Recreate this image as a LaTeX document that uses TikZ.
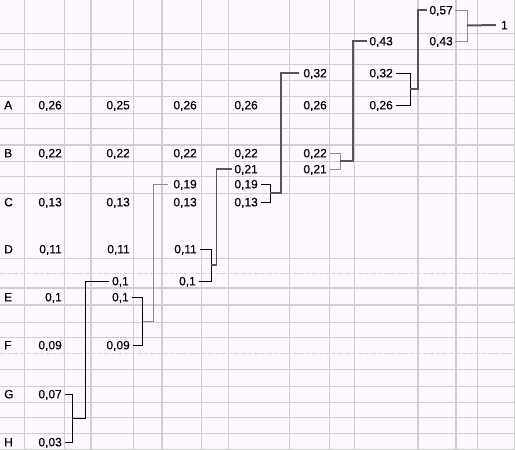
\documentclass[tikz,border=0pt]{standalone}
\usepackage{fontspec}
\setmainfont{Liberation Sans}
\newfontfamily\cellfont{Liberation Sans}[FakeBold=0.45]
\usetikzlibrary{calc}

\definecolor{sheet}{RGB}{254,248,254}
\definecolor{gridgray}{RGB}{206,206,206}
\definecolor{linkgray}{RGB}{85,85,85}

\begin{document}
\begin{tikzpicture}[x=1pt,y=-1pt]
    \tikzstyle{every node}=[font=\cellfont\fontsize{12}{14}\selectfont, inner sep=0pt,
    text height=8.6pt, text depth=0pt]
    \tikzstyle{prob}=[anchor=east]
    \tikzstyle{letter}=[anchor=west]
    \tikzstyle{cell}=[gridgray, line width=1pt]
    \tikzstyle{thickcell}=[gridgray, line width=2pt]
    \tikzstyle{dotcell}=[gridgray!80, line width=1pt, dash pattern=on 5pt off 1.5pt]
    \tikzstyle{pairline}=[black, line width=0.8pt]
    \tikzstyle{faintline}=[black!45, line width=0.8pt]
    \tikzstyle{sumline}=[linkgray, line width=1.4pt]

    \useasboundingbox (0,0) rectangle (515,450);
    \fill[sheet] (0,0) rectangle (515,450);

    % sheet grid
    \draw[cell] (24,0) -- (24,450) (64,0) -- (64,450) (133,0) -- (133,450)
    (201,0) -- (201,450) (228,0) -- (228,450) (289,0) -- (289,450)
    (329,0) -- (329,450) (354,0) -- (354,450) (477,0) -- (477,450)
    (514,0) -- (514,450);
    \draw[thickcell] (91,0) -- (91,450) (162,0) -- (162,450)
    (418,0) -- (418,450) (456,0) -- (456,450);
    \draw[cell] (0,33) -- (515,33) (0,49) -- (515,49) (0,64) -- (515,64)
    (0,80) -- (515,80) (0,96) -- (515,96) (0,113) -- (515,113)
    (0,128) -- (515,128) (0,161) -- (515,161) (0,176) -- (515,176)
    (0,193) -- (515,193) (0,258) -- (515,258) (0,322) -- (515,322)
    (0,337) -- (515,337) (0,369) -- (515,369) (0,386) -- (515,386)
    (0,402) -- (515,402) (0,417) -- (515,417) (0,433) -- (515,433)
    (0,449) -- (515,449);
    \draw[thickcell] (0,145) -- (515,145) (0,288) -- (515,288) (0,305) -- (515,305);
    \draw[dotcell] (0,273) -- (515,273) (0,353) -- (515,353);

    % symbols
    \node[letter] (la) at (4,105) {A};
    \node[letter] (lb) at (4,153) {B};
    \node[letter] (lc) at (4,202) {C};
    \node[letter] (ld) at (4,249) {D};
    \node[letter] (le) at (4,297) {E};
    \node[letter] (lf) at (4,345) {F};
    \node[letter] (lg) at (4,394) {G};
    \node[letter] (lh) at (4,442) {H};

    % step 1
    \node[prob] (a1) at (62,105) {0,26};
    \node[prob] (b1) at (62,153) {0,22};
    \node[prob] (c1) at (62,202) {0,13};
    \node[prob] (d1) at (62,249) {0,11};
    \node[prob] (e1) at (62,297) {0,1};
    \node[prob] (f1) at (62,345) {0,09};
    \node[prob] (g1) at (62,394) {0,07};
    \node[prob] (h1) at (62,442) {0,03};

    % step 2
    \node[prob] (a2) at (130,105) {0,25};
    \node[prob] (b2) at (130,153) {0,22};
    \node[prob] (c2) at (130,202) {0,13};
    \node[prob] (d2) at (130,249) {0,11};
    \node[prob] (gh2) at (129,281) {0,1};
    \node[prob] (e2) at (129,297) {0,1};
    \node[prob] (f2) at (130,345) {0,09};

    % step 3
    \node[prob] (a3) at (197,105) {0,26};
    \node[prob] (b3) at (197,153) {0,22};
    \node[prob] (ef3) at (197,184) {0,19};
    \node[prob] (c3) at (197,202) {0,13};
    \node[prob] (d3) at (197,249) {0,11};
    \node[prob] (gh3) at (196,281) {0,1};

    % step 4
    \node[prob] (a4) at (258,105) {0,26};
    \node[prob] (b4) at (258,153) {0,22};
    \node[prob] (dg4) at (258,169) {0,21};
    \node[prob] (ef4) at (258,184) {0,19};
    \node[prob] (c4) at (258,202) {0,13};

    % step 5
    \node[prob] (cf5) at (327,73) {0,32};
    \node[prob] (a5) at (327,105) {0,26};
    \node[prob] (b5) at (327,153) {0,22};
    \node[prob] (dg5) at (327,169) {0,21};

    % step 6
    \node[prob] (bd6) at (393,41) {0,43};
    \node[prob] (cf6) at (393,73) {0,32};
    \node[prob] (a6) at (393,105) {0,26};

    % step 7
    \node[prob] (ac7) at (453,10) {0,57};
    \node[prob] (bd7) at (453,41) {0,43};
    \node[prob] (root) at (508,25) {1};

    % merges
    \draw[pairline] ([xshift=3]g1.east) -| ([xshift=10]h1.east) -- ([xshift=3]h1.east);
    \coordinate (gh) at ($(g1.east)!.5!(h1.east)+(10,0)$);
    \draw[pairline] (gh) -- ++(13,0) |- ([xshift=-3]gh2.west);

    \draw[pairline] ([xshift=3]e2.east) -| ([xshift=12]f2.east) -- ([xshift=3]f2.east);
    \coordinate (ef) at ($(e2.east)!.5!(f2.east)+(13,0)$);
    \draw[faintline] (ef) -- ++(11,0) |- ([xshift=-5]ef3.west);

    \draw[pairline] ([xshift=3]d3.east) -| ([xshift=14]d3.east |- gh3.east) -- ([xshift=3]gh3.east);
    \coordinate (dg) at ($(d3.east)!.5!(gh3.east)+(14,0)$);
    \draw[sumline] (dg) -- ++(6,0) |- ([xshift=-2]dg4.west);

    \draw[pairline] ([xshift=3]ef4.east) -| ([xshift=12]c4.east) -- ([xshift=3]c4.east);
    \coordinate (cf) at ($(ef4.east)!.5!(c4.east)+(12,0)$);
    \draw[sumline] (cf) -- ++(11,0) |- ([xshift=-4]cf5.west);

    \draw[faintline] ([xshift=3]b5.east) -| ([xshift=13]dg5.east) -- ([xshift=3]dg5.east);
    \coordinate (bd) at ($(b5.east)!.5!(dg5.east)+(13,0)$);
    \draw[sumline] (bd) -- ++(13,0) |- ([xshift=-2]bd6.west);

    \draw[pairline] ([xshift=3]cf6.east) -| ([xshift=17]a6.east) -- ([xshift=3]a6.east);
    \coordinate (ac) at ($(cf6.east)!.5!(a6.east)+(17,0)$);
    \draw[sumline] (ac) -- ++(8,0) |- ([xshift=-2]ac7.west);

    \draw[faintline] ([xshift=2]ac7.east) -| ([xshift=14]bd7.east) -- ([xshift=2]bd7.east);
    \coordinate (all) at ($(ac7.east)!.5!(bd7.east)+(14,0)$);
    \draw[sumline, line width=2pt] (all) -- ([xshift=-5]root.west);

\end{tikzpicture}
\end{document}
